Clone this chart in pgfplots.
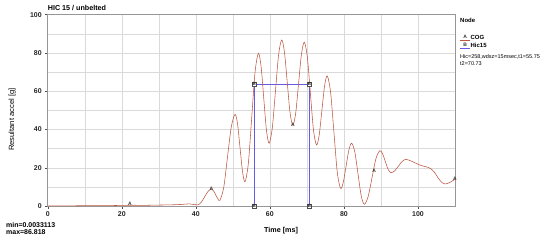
\documentclass[border=0pt]{standalone}
\usepackage{pgfplots}
\pgfplotsset{compat=1.18}
\usepackage{fontspec}
\setmainfont{Liberation Sans}
\definecolor{curvecol}{RGB}{188,84,62}
\definecolor{rectcol}{RGB}{100,90,230}
\definecolor{gridcol}{RGB}{218,218,218}
\definecolor{framecol}{RGB}{150,150,150}
\begin{document}
\begin{tikzpicture}
\useasboundingbox (-47.7bp,-36bp) rectangle (502.3bp,206bp);
\begin{axis}[
  at={(0,0)}, anchor=south west,
  scale only axis, width=407.3bp, height=191.3bp,
  xmin=0, xmax=110, ymin=0, ymax=100,
  xtick={0,20,...,100}, ytick={0,20,...,100},
  minor xtick={10,30,...,110}, minor ytick={10,30,...,90},
  grid=both,
  major grid style={color=gridcol, line width=0.45pt},
  minor grid style={color=gridcol, line width=0.45pt},
  axis line style={color=framecol, line width=0.5pt},
  major tick length=2.5bp, minor tick length=0pt, tick align=outside,
  tick style={color=black!70, line width=0.4pt},
  xtick pos=bottom, ytick pos=left,
  tick label style={font=\fontsize{7}{8}\selectfont\bfseries, text=black!85},
  /pgf/number format/assume math mode=true,
  clip=false,
  legend style={at={(axis description cs:1.012,0.895)}, anchor=north west, draw=none, fill=none,
    font=\fontsize{6}{7}\selectfont\bfseries, inner sep=0pt, row sep=0.8pt, nodes={inner sep=0.6pt}},
  legend cell align=left,
]
\addlegendimage{legend image code/.code={\draw[curvecol, line width=0.6pt] (0cm,-0.07cm) -- (0.33cm,-0.07cm); \node[font=\fontsize{5}{5}\selectfont\bfseries, text=black!80, inner sep=0pt, anchor=south] at (0.17cm,-0.06cm) {A};}}
\addlegendentry{COG}
\addlegendimage{legend image code/.code={\draw[rectcol, line width=0.6pt] (0cm,-0.07cm) -- (0.33cm,-0.07cm); \node[font=\fontsize{5}{5}\selectfont\bfseries, text=black!80, inner sep=0pt, anchor=south] at (0.17cm,-0.06cm) {B};}}
\addlegendentry{Hic15}

\addplot[forget plot, color=rectcol, line width=0.6pt] coordinates {(55.75,0) (55.75,63.8) (70.73,63.8) (70.73,0)};

\addplot[forget plot, color=curvecol, line width=0.55pt, smooth, tension=0.5] coordinates {
(0,0.05) (3,0.1) (6,0.1) (10,0.15) (14,0.2) (18,0.25) (22.2,0.4) (26,0.35) (30,0.5) (33,0.6) (36,0.8) (38.3,1.1) (39.5,0.7) (40.5,0.6)
(41.43,1.80) (42.35,4.70) (43.28,7.60) (44.2,8.8)
(44.78,7.95) (45.35,5.90) (45.93,3.85) (46.5,3.0)
(47.53,9.56) (48.55,25.45) (49.58,41.34) (50.6,47.9)
(51.28,42.76) (51.95,30.30) (52.63,17.84) (53.3,12.7)
(54.2,22.50) (55.1,46.25) (56.0,70.00) (56.9,79.8)
(57.63,72.94) (58.35,56.30) (59.08,39.66) (59.8,32.8)
(60.65,40.68) (61.5,59.80) (62.35,78.92) (63.2,86.8)
(63.95,80.30) (64.7,64.55) (65.45,48.80) (66.2,42.3)
(66.98,48.62) (67.75,63.95) (68.53,79.28) (69.3,85.6)
(70.13,77.76) (70.95,58.75) (71.78,39.74) (72.6,31.9)
(73.33,37.17) (74.05,49.95) (74.78,62.73) (75.5,68.0)
(76.4,59.42) (77.3,38.60) (78.2,17.78) (79.1,9.2)
(79.85,12.65) (80.6,21.00) (81.35,29.35) (82.1,32.8)
(82.95,28.14) (83.8,16.85) (84.65,5.56) (85.5,0.9)
(86.55,4.99) (87.6,14.90) (88.65,24.81) (89.7,28.9)
(90.45,27.22) (91.2,23.15) (91.95,19.08) (92.7,17.4)
(93.73,18.42) (94.75,20.9) (95.78,23.38) (96.8,24.4)
(98.5,23.2) (100.5,21.4) (102,20.6) (103.3,19.7) (104.5,17.5) (105.5,14.5) (106.5,12.2) (107.3,11.5) (108.5,12.2) (110,14.0)
};

\addplot[forget plot, only marks, mark=text, text mark={A}, text mark as node=true,
  text mark style={font=\fontsize{5}{5}\selectfont\bfseries, text=black!80, inner sep=0pt}]
  coordinates {(22.2,0.9) (44.2,8.8) (66.2,42.3) (88.2,18.5) (110,14.0)};
\addplot[forget plot, only marks, mark=text, text mark={B}, text mark as node=true,
  text mark style={font=\fontsize{4.5}{4.5}\selectfont\bfseries, text=black!85, draw=black!70, fill=white, line width=0.3pt, inner sep=0.4pt}]
  coordinates {(55.75,0) (55.75,63.8) (70.73,63.8) (70.73,0)};

\node[anchor=west, font=\fontsize{7.2}{8}\selectfont\bfseries, inner sep=0pt] at (axis description cs:0.0,1.034) {HIC 15 / unbelted};
\node[rotate=90, font=\fontsize{7.6}{8}\selectfont, inner sep=0pt] at (axis description cs:-0.087,0.452) {Resultant accel [g]};
\node[font=\fontsize{7.2}{8}\selectfont\bfseries, inner sep=0pt] at (axis description cs:0.573,-0.131) {Time [ms]};
\node[anchor=west, font=\fontsize{7}{8}\selectfont\bfseries, inner sep=0pt] at (axis description cs:-0.1024,-0.099) {min=0.0033113};
\node[anchor=west, font=\fontsize{7}{8}\selectfont\bfseries, inner sep=0pt] at (axis description cs:-0.1024,-0.139) {max=86.818};
\node[anchor=west, font=\fontsize{6}{7}\selectfont\bfseries, inner sep=0pt] at (axis description cs:1.0123,0.969) {Node};
\node[anchor=west, font=\fontsize{5.5}{6}\selectfont, inner sep=0pt] at (axis description cs:1.0123,0.777) {Hic=258,wdsz=15msec,t1=55.75};
\node[anchor=west, font=\fontsize{5.5}{6}\selectfont, inner sep=0pt] at (axis description cs:1.0123,0.746) {t2=70.73};
\end{axis}
\end{tikzpicture}
\end{document}
